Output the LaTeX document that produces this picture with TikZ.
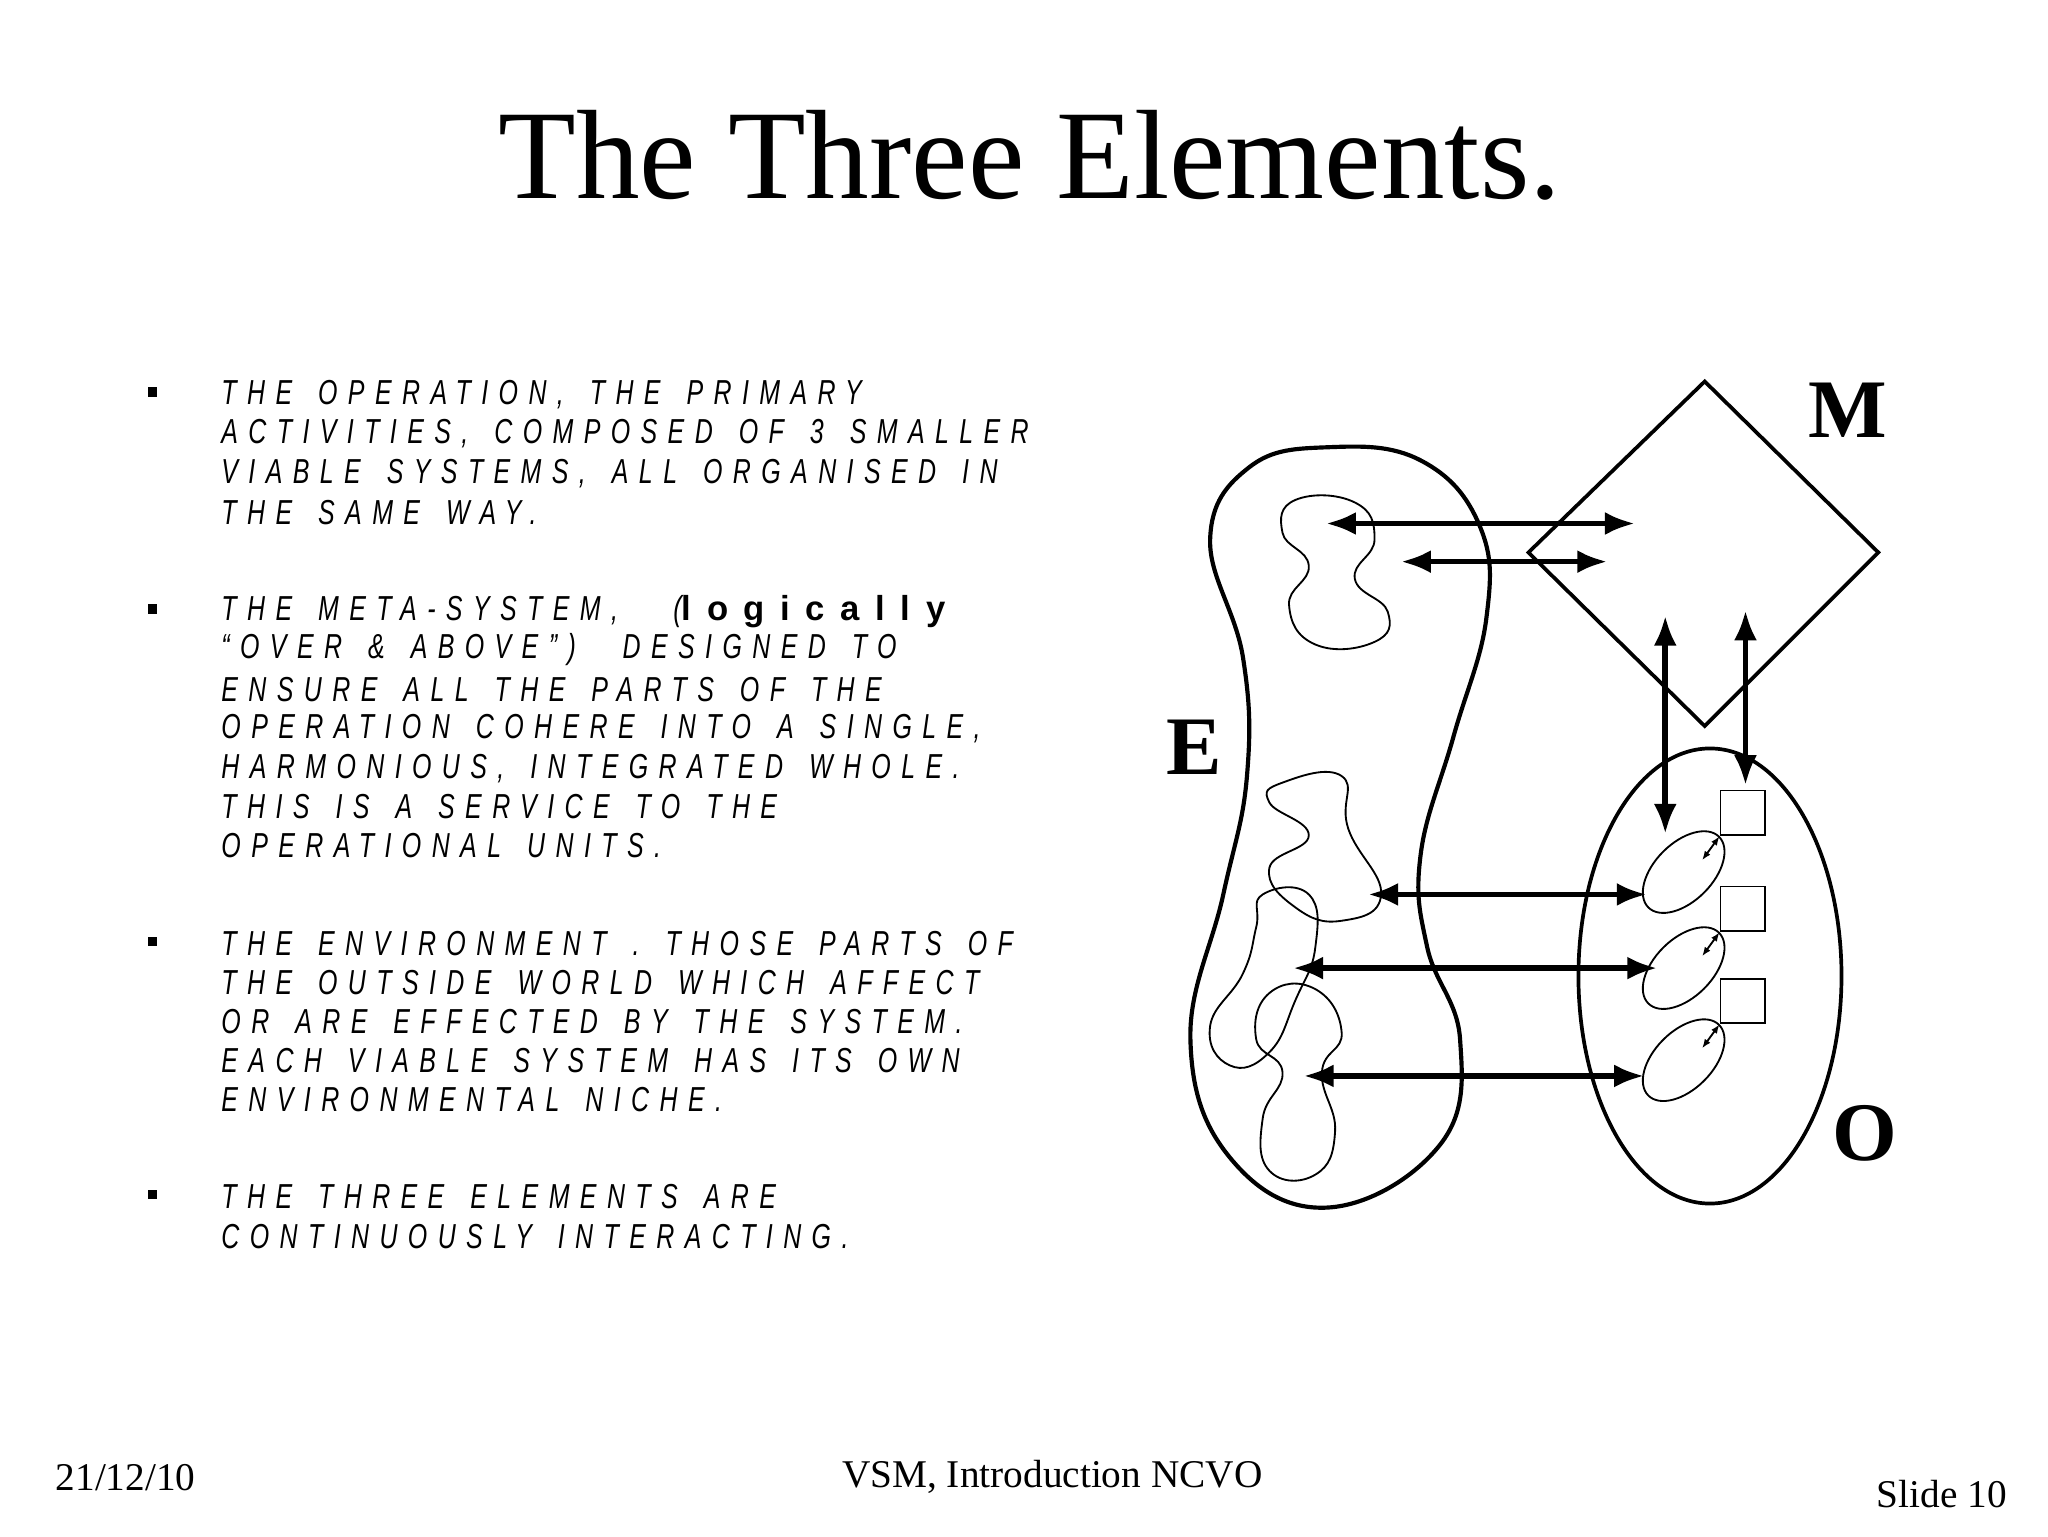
\documentclass[tikz,border=0pt]{standalone}
\usepackage{fontspec}
\setmainfont{Liberation Serif}
\newfontfamily\bodyf[FakeStretch=0.72,LetterSpace=30,WordSpace=1.5]{Liberation Sans}
\newfontfamily\boldf[LetterSpace=45]{Liberation Sans}
\usetikzlibrary{arrows.meta}
\begin{document}
\begin{tikzpicture}[x=0.2mm,y=-0.2mm,
  line/.style={anchor=west,inner sep=0,font=\bodyf\itshape\fontsize{15}{15}\selectfont},
  foot/.style={inner sep=0,font=\fontsize{17}{17}\selectfont},
  dbl/.style={{Latex[length=13pt,width=10pt]}-{Latex[length=13pt,width=10pt]},line width=2.4pt},
  thin/.style={line width=0.8pt},
  lab/.style={inner sep=0,font=\bfseries\fontsize{36}{36}\selectfont}]
\useasboundingbox (0,0) rectangle (1557,1168);
\node[inner sep=0,font=\fontsize{55}{55}\selectfont] (title) at (783,118) {The Three Elements.};
% bullets
\foreach \y/\n in {298/b1,463/b2,716/b3,908/b4}
  \node[fill=black,minimum size=4pt,inner sep=0] (\n) at (116,\y) {};
% text
\node[line] (l1) at (168,300) {THE OPERATION, THE PRIMARY};
\node[line] (l2) at (168,330) {ACTIVITIES, COMPOSED OF 3 SMALLER};
\node[line] (l3) at (168,360) {VIABLE SYSTEMS, ALL ORGANISED IN};
\node[line] (l4) at (168,390) {THE SAME WAY.};
\node[line] (l5) at (168,465) {THE META-SYSTEM,\hspace{1.6em}(\upshape\boldf\bfseries\fontsize{15}{15}\selectfont logically};
\node[line] (l6) at (168,494) {“OVER \& ABOVE”)\hspace{0.6em} DESIGNED TO};
\node[line] (l7) at (168,524) {ENSURE ALL THE PARTS OF THE};
\node[line] (l8) at (168,554) {OPERATION COHERE INTO A SINGLE,};
\node[line] (l9) at (168,584) {HARMONIOUS, INTEGRATED WHOLE.};
\node[line] (l10) at (168,613) {THIS IS A SERVICE TO THE};
\node[line] (l11) at (168,643) {OPERATIONAL UNITS.};
\node[line] (l12) at (168,717) {THE ENVIRONMENT . THOSE PARTS OF};
\node[line] (l13) at (168,747) {THE OUTSIDE WORLD WHICH AFFECT};
\node[line] (l14) at (168,777) {OR ARE EFFECTED BY THE SYSTEM.};
\node[line] (l15) at (168,806) {EACH VIABLE SYSTEM HAS ITS OWN};
\node[line] (l16) at (168,836) {ENVIRONMENTAL NICHE.};
\node[line] (l17) at (168,910) {THE THREE ELEMENTS ARE};
\node[line] (l18) at (168,940) {CONTINUOUSLY INTERACTING.};
% footer
\node[foot,anchor=west] (date) at (42,1123) {21/12/10};
\node[foot] (ft) at (800,1123) {VSM, Introduction NCVO};
\node[foot,anchor=east] (slide) at (1526,1136) {Slide 10};
% diagram
\draw[line width=1.6pt] (1296,290) -- (1428,420) -- (1296,552) -- (1162,420) -- cycle;
\node[lab] (M) at (1405,312) {M};
\draw[line width=1.8pt] plot[smooth cycle,tension=0.7] coordinates {
 (1010,340) (1080,350) (1125,400) (1130,470) (1105,560) (1080,650) (1085,720) (1110,790) (1095,870) (1010,918) (935,880) (905,790) (930,680) (948,590) (945,500) (920,410) (950,355)};
\node[lab] (E) at (908,568) {E};
\draw[line width=1.6pt] (1300,742) ellipse [x radius=100,y radius=173];
\node[lab] (O) at (1418,862) {O};
% blobs
\draw[thin] plot[smooth cycle,tension=0.8] coordinates {(985,380) (1030,382) (1045,410) (1030,440) (1055,465) (1045,488) (1000,490) (980,460) (995,430) (975,405)};
\draw[thin] plot[smooth cycle,tension=0.8] coordinates {(975,595) (1020,590) (1025,630) (1050,680) (1020,700) (985,690) (965,660) (995,635) (965,610)};
\draw[thin] plot[smooth cycle,tension=0.8] coordinates {(960,680) (995,680) (1000,720) (985,760) (965,800) (935,810) (920,780) (945,740) (955,705)};
\draw[thin] plot[smooth cycle,tension=0.8] coordinates {(965,755) (1000,752) (1020,785) (1005,815) (1015,860) (1000,893) (965,890) (960,850) (975,815) (955,790)};
% arrows
\coordinate (a1) at (1008,398); \coordinate (a2) at (1243,398);
\coordinate (a3) at (1065,427); \coordinate (a4) at (1222,427);
\draw[dbl] (a1) -- (a2);
\draw[dbl] (a3) -- (a4);
\coordinate (v1) at (1266,468); \coordinate (v2) at (1266,634);
\coordinate (v3) at (1327,464); \coordinate (v4) at (1327,597);
\draw[dbl] (v1) -- (v2);
\draw[dbl] (v3) -- (v4);
\coordinate (h1) at (1040,680); \coordinate (h2) at (1252,680);
\coordinate (h3) at (983,736); \coordinate (h4) at (1260,736);
\coordinate (h5) at (991,818); \coordinate (h6) at (1250,818);
\draw[dbl] (h1) -- (h2);
\draw[dbl] (h3) -- (h4);
\draw[dbl] (h5) -- (h6);
% units
\foreach \y/\n in {618/1,691/2,761/3}{
  \node[draw,thin,minimum size=34*0.2mm,inner sep=0] (s\n) at (1325,\y) {};
  \draw[thin,rotate around={45:(1280,\y+45)}] (1280,\y+45) ellipse [x radius=38,y radius=22];
  \draw[thin,{Latex[length=4pt]}-{Latex[length=4pt]}] (1294,\y+36) -- (s\n.south west);
}
\end{tikzpicture}
\end{document}
